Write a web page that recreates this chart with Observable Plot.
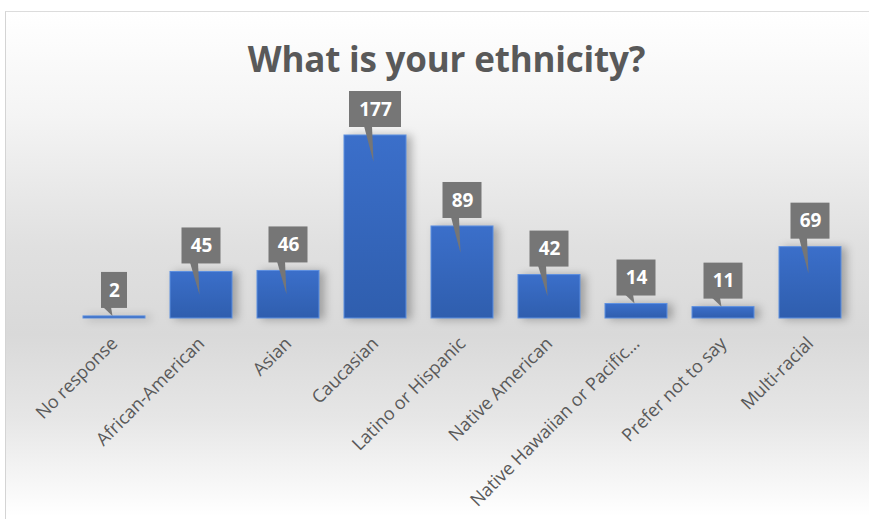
<!DOCTYPE html>
<html><head><meta charset="utf-8">
<script src="https://cdn.jsdelivr.net/npm/d3@7"></script>
<script src="https://cdn.jsdelivr.net/npm/@observablehq/plot@0.6"></script>
<style>
html,body{margin:0;padding:0;width:869px;height:519px;overflow:hidden;background:#fff;}
#frame{position:absolute;left:5px;top:11px;width:870px;height:520px;border-left:1.5px solid #d4d4d4;border-top:1.5px solid #dcdcdc;
  background:linear-gradient(to bottom,#ffffff 0%,#f4f4f4 20%,#e0e0e0 45%,#d9d9d9 62%,#e6e6e6 78%,#ffffff 97%);}
#title{position:absolute;left:12px;top:34px;width:869px;text-align:center;font-family:'Open Sans';font-weight:700;font-size:35px;color:#595959;line-height:50px;letter-spacing:-0.2px;}
#chart{position:absolute;left:0;top:90px;}
#chart svg{background:transparent !important;overflow:visible;}
#chart g[aria-label="bar"]{filter:drop-shadow(5px 1px 4px rgba(0,0,0,0.28));}
</style>
</head><body>
<div id="frame"></div>
<div id="title">What is your ethnicity?</div>
<div id="chart"></div>
<script>
const categories = ["No response","African-American","Asian","Caucasian","Latino or Hispanic","Native American","Native Hawaiian or Pacific…","Prefer not to say","Multi-racial"];
const counts = [2,45,46,177,89,42,14,11,69];
const data = categories.map((c,i)=>({category:c,count:counts[i]}));

function callouts(index, scales) {
  const g = d3.create("svg:g");
  const x = scales.x, y = scales.y;
  const bw = x.bandwidth ? x.bandwidth() : 62;
  const y0 = y(0);
  for (const d of data) {
    const cx = x(d.category) + bw/2;
    const yt = y(d.count);
    const w = 13*String(d.count).length + 13;
    const bb = yt - 8, bt = bb - 36;
    const h = y0 - yt;
    const tip = h < 20 ? yt : yt + Math.min(27, h/2);
    g.append("path").attr("d", `M${cx-11},${bb-1}L${cx-3},${bb-1}L${cx-1.5},${tip}Z`).attr("fill","#767676");
    g.append("rect").attr("x", cx - w/2).attr("y", bt).attr("width", w).attr("height", 36).attr("fill","#767676");
  }
  return g.node();
}

const plot = Plot.plot({
  width: 869,
  height: 429,
  marginLeft: 67.2,
  marginRight: 13.4,
  marginTop: 45,
  marginBottom: 201,
  style: {background:"transparent", fontFamily:"'Open Sans'"},
  x: {domain: categories, paddingInner: 0.29, paddingOuter: 0.145, label: null},
  y: {domain: [0,177], axis: null},
  marks: [
    Plot.barY(data, {x:"category", y:"count", fill:"url(#barGrad)", stroke:"#5d8fe0", strokeWidth:1}),
    callouts,
    Plot.text(data, {x:"category", y:"count", text:d=>String(d.count), dy:-26, fill:"#ffffff", fontWeight:"bold", fontSize:19, fontFamily:"'Open Sans'"}),
    Plot.axisX({tickSize:0, tickPadding:22, tickRotate:-45, fontSize:18, fill:"#595959", label:null, fontFamily:"'Open Sans'"})
  ]
});
const svg = d3.select(plot);
const defs = svg.insert("defs", ":first-child");
const lg = defs.append("linearGradient").attr("id","barGrad").attr("x1",0).attr("y1",0).attr("x2",0).attr("y2",1);
lg.append("stop").attr("offset","0%").attr("stop-color","#3b6fca");
lg.append("stop").attr("offset","100%").attr("stop-color","#2f5eae");
document.getElementById("chart").appendChild(plot);
</script>
</body></html>
